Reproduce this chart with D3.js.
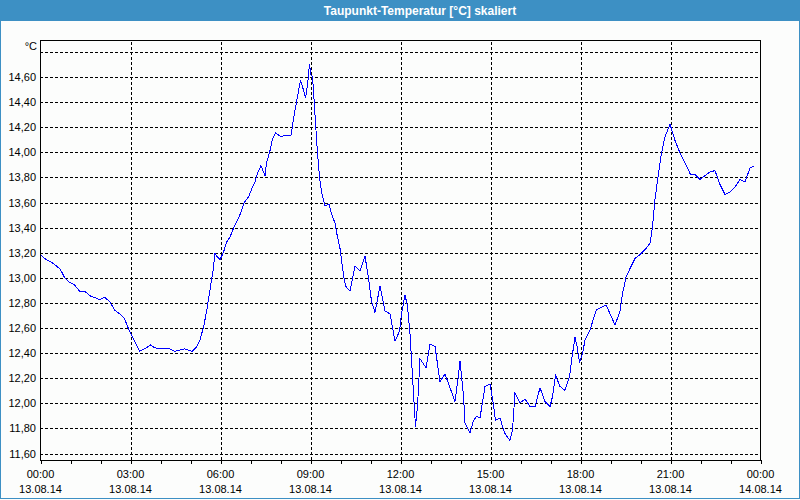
<!DOCTYPE html>
<html><head><meta charset="utf-8">
<script src="https://cdn.jsdelivr.net/npm/d3@7"></script>
<style>
html,body{margin:0;padding:0;background:#fcfdfc;}
svg{display:block;}
text{font-family:"Liberation Sans",Arial,sans-serif;}
</style></head>
<body>
<svg id="chart" width="800" height="500"></svg>
<script>
// minutes since 13.08.14 00:00
const times = [1,9,23,36,41,49,59,69,79,89,101,109,119,129,139,149,159,169,179,189,199,209,221,229,239,249,259,269,279,289,296,
304,312,320,328,334,340,346,350,353,360,367,373,380,387,393,400,409,417,423,430,435,442,450,453,460,465,471,482,490,502,505,510,515,521,525,531,535,539,542,545,549,552,555,559,563,570,578,583,590,
593,600,607,611,620,630,640,650,657,663,670,680,690,700,710,719,723,730,735,740,745,751,755,760,767,772,780,790,800,810,820,830,837,840,847,850,860,867,873,880,
890,900,907,911,920,929,940,945,950,960,970,980,990,1000,1010,1020,1025,1031,1040,1050,1059,1065,1070,1074,1079,1085,1090,1100,1107,1113,1123,1132,1140,1150,1160,
1165,1172,1180,1190,1200,1210,1220,1225,1230,1237,1243,1250,1260,1270,1280,1290,1301,1310,1320,1330,1340,1350,1360,1370,1380,1390,1400,1410,1420,1429];
const values = [13.18,13.15,13.12,13.08,13.06,13.00,12.96,12.94,12.89,12.89,12.85,12.84,12.82,12.84,12.81,12.74,12.71,12.67,12.57,12.49,12.41,12.43,12.46,12.44,12.43,12.43,12.43,12.41,12.42,12.43,12.42,
12.41,12.44,12.50,12.62,12.75,12.90,13.05,13.19,13.17,13.14,13.20,13.28,13.32,13.39,13.44,13.50,13.60,13.64,13.70,13.76,13.83,13.89,13.81,13.91,14.01,14.10,14.15,14.12,14.13,14.13,14.21,14.33,14.44,14.57,14.52,14.43,14.53,14.70,14.61,14.60,14.36,14.17,13.99,13.80,13.68,13.57,13.58,13.51,13.43,
13.36,13.23,13.02,12.93,12.89,13.09,13.05,13.17,12.99,12.81,12.72,12.93,12.73,12.71,12.49,12.57,12.71,12.86,12.77,12.55,12.21,11.81,11.97,12.35,12.31,12.28,12.47,12.45,12.17,12.23,12.12,12.01,12.22,12.33,12.06,11.84,11.76,11.86,11.89,11.88,
12.13,12.15,11.98,11.86,11.88,11.76,11.70,11.78,12.08,12.00,12.03,11.97,11.97,12.12,12.01,11.97,12.05,12.22,12.13,12.10,12.21,12.39,12.52,12.45,12.32,12.39,12.50,12.58,12.67,12.74,12.76,12.78,12.71,12.62,12.73,
12.87,13.00,13.07,13.15,13.18,13.22,13.27,13.40,13.62,13.83,13.99,14.12,14.22,14.09,13.99,13.91,13.82,13.82,13.78,13.81,13.84,13.85,13.74,13.66,13.68,13.72,13.78,13.76,13.87,13.89];

const yGridValues = [11.6,11.8,12.0,12.2,12.4,12.6,12.8,13.0,13.2,13.4,13.6,13.8,14.0,14.2,14.4,14.6,14.8];
const xMajorTicks = [0,180,360,540,720,900,1080,1260,1440];
const xMinorTicks = d3.range(0,1441,60);
const timeLabels = ["00:00","03:00","06:00","09:00","12:00","15:00","18:00","21:00","00:00"];
const dateLabels = ["13.08.14","13.08.14","13.08.14","13.08.14","13.08.14","13.08.14","13.08.14","13.08.14","14.08.14"];
const title = "Taupunkt-Temperatur [°C] skaliert";
const unit = "°C";

const L=40, R=760, T=40, B=460;
const svg = d3.select("#chart");

// title bar and border
svg.append("rect").attr("x",0).attr("y",0).attr("width",800).attr("height",21).attr("fill","#3d90c4");
svg.append("rect").attr("x",0.5).attr("y",0.5).attr("width",799).attr("height",498).attr("fill","none").attr("stroke","#3d90c4");
svg.append("text").attr("x",420).attr("y",15).attr("text-anchor","middle").attr("fill","#fff")
  .attr("font-weight","bold").attr("font-size","12px").text(title);

const x = d3.scaleLinear().domain([0,1440]).range([L,R]);
const y = d3.scaleLinear().domain([11.6-7/125.5, 11.6+413/125.5]).range([B,T]);

const fmt = v => d3.format(".2f")(v).replace(".",",");

// horizontal grid + y labels
const yAx = svg.append("g").attr("transform",`translate(${L},0.5)`)
  .call(d3.axisLeft(y).tickValues(yGridValues).tickSize(-(R-L)).tickPadding(4)
    .tickFormat(v => v>14.75 ? "" : fmt(v)));
yAx.select(".domain").remove();
yAx.selectAll(".tick line").attr("stroke","#000").attr("stroke-dasharray","3,2").attr("shape-rendering","crispEdges");
yAx.selectAll(".tick text").attr("font-size","11px").attr("fill","#000").attr("font-family","Liberation Sans, Arial, sans-serif");

// vertical grid
const xGrid = svg.append("g").attr("transform",`translate(0.5,${B})`)
  .call(d3.axisBottom(x).tickValues(xMajorTicks.filter(t=>t>0&&t<1440)).tickSize(-(B-T)).tickFormat(""));
xGrid.select(".domain").remove();
xGrid.selectAll(".tick line").attr("stroke","#000").attr("stroke-dasharray","3,2").attr("shape-rendering","crispEdges");

// minor ticks
const xMin = svg.append("g").attr("transform",`translate(0.5,${B})`)
  .call(d3.axisBottom(x).tickValues(xMinorTicks).tickSize(4).tickFormat(""));
xMin.select(".domain").remove();
xMin.selectAll(".tick line").attr("stroke","#000").attr("shape-rendering","crispEdges");

// time labels
const xT = svg.append("g").attr("transform",`translate(0,${B})`)
  .call(d3.axisBottom(x).tickValues(xMajorTicks).tickSize(0).tickPadding(10).tickFormat((d,i)=>timeLabels[i]));
xT.select(".domain").remove();
xT.selectAll(".tick text").attr("font-size","11px").attr("fill","#000").attr("font-family","Liberation Sans, Arial, sans-serif");
const xD = svg.append("g").attr("transform",`translate(0,${B+15})`)
  .call(d3.axisBottom(x).tickValues(xMajorTicks).tickSize(0).tickPadding(10).tickFormat((d,i)=>dateLabels[i]));
xD.select(".domain").remove();
xD.selectAll(".tick text").attr("font-size","11px").attr("fill","#000").attr("font-family","Liberation Sans, Arial, sans-serif");

// unit label
svg.append("text").attr("x",37).attr("y",50).attr("text-anchor","end").attr("font-size","11px").text(unit);

// frame
svg.append("rect").attr("x",L+0.5).attr("y",T+0.5).attr("width",R-L).attr("height",B-T)
  .attr("fill","none").attr("stroke","#000").attr("shape-rendering","crispEdges");

// data line
const line = d3.line().x((d,i)=>x(times[i])).y(d=>y(d));
svg.append("path").datum(values).attr("d",line).attr("fill","none").attr("stroke","#0000ff")
  .attr("stroke-width",1).attr("shape-rendering","crispEdges");
</script>
</body></html>
